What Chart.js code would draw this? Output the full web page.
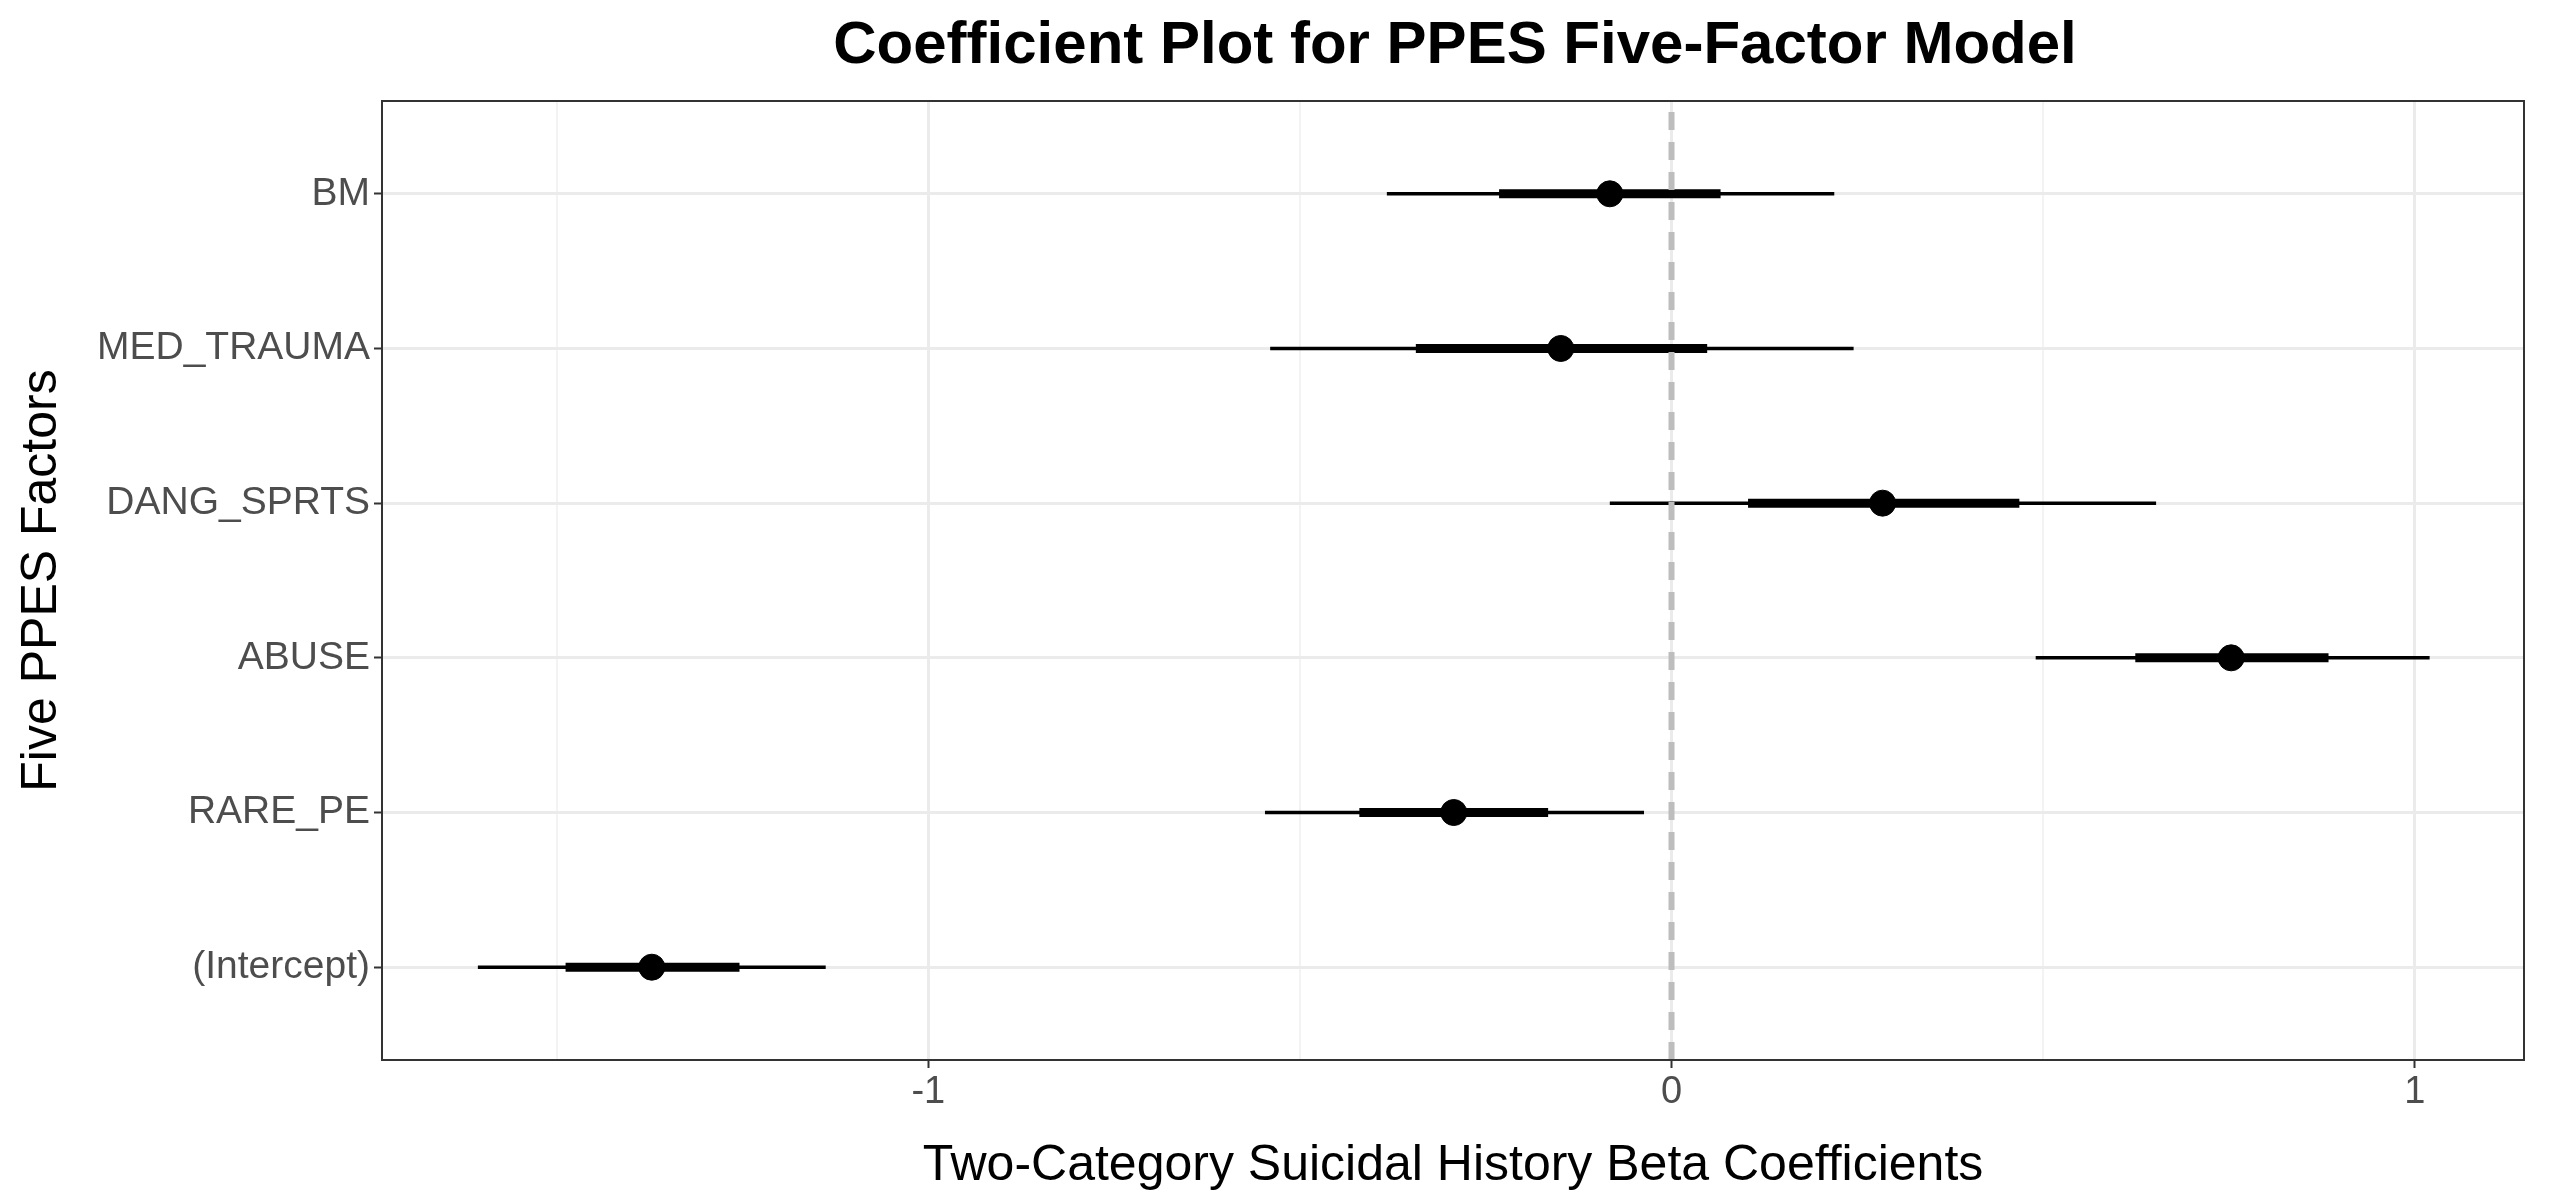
<!DOCTYPE html>
<html>
<head>
<meta charset="utf-8">
<script src="https://cdn.jsdelivr.net/npm/chart.js@4/dist/chart.umd.min.js"></script>
<style>
  html, body { margin: 0; padding: 0; background: #fff; }
  canvas { display: block; }
</style>
</head>
<body>
<canvas id="c" width="2550" height="1200"></canvas>
<script>
// rows from bottom (y=1) to top (y=6)
const factors = ['(Intercept)', 'RARE_PE', 'ABUSE', 'DANG_SPRTS', 'MED_TRAUMA', 'BM'];
const estimates = [-1.372, -0.293, 0.753, 0.284, -0.149, -0.083];
const innerLow  = [-1.488, -0.420, 0.624, 0.103, -0.344, -0.232];
const innerHigh = [-1.254, -0.166, 0.884, 0.468, 0.048, 0.066];
const outerLow  = [-1.606, -0.547, 0.490, -0.083, -0.540, -0.383];
const outerHigh = [-1.138, -0.037, 1.020, 0.652, 0.245, 0.219];
const xTicks = [-1.5, -1, -0.5, 0, 0.5, 1];

function segments(lo, hi) {
  const pts = [];
  lo.forEach((v, i) => { pts.push({x: v, y: i + 1}, {x: hi[i], y: i + 1}, {x: NaN, y: NaN}); });
  return pts;
}

const panelBorder = {
  id: 'panelBorder',
  afterDraw(chart) {
    const a = chart.chartArea, ctx = chart.ctx;
    ctx.save();
    ctx.strokeStyle = '#333333';
    ctx.lineWidth = 2;
    ctx.strokeRect(a.left, a.top, a.right - a.left, a.bottom - a.top);
    ctx.fillStyle = '#000';
    ctx.font = 'bold 60px "Liberation Sans", Arial, sans-serif';
    ctx.textAlign = 'center';
    ctx.textBaseline = 'middle';
    ctx.fillText('Coefficient Plot for PPES Five-Factor Model', (a.left + a.right) / 2 + 2, 46);
    ctx.restore();
  }
};

new Chart(document.getElementById('c'), {
  type: 'scatter',
  data: {
    datasets: [
      { data: [{x: 0, y: 0.4}, {x: 0, y: 6.6}], showLine: true, borderColor: '#bdbdbd',
        borderWidth: 6, borderDash: [18, 12], pointRadius: 0 },
      { data: segments(outerLow, outerHigh), showLine: true, spanGaps: false,
        borderColor: '#000', borderWidth: 3.5, pointRadius: 0 },
      { data: segments(innerLow, innerHigh), showLine: true, spanGaps: false,
        borderColor: '#000', borderWidth: 9, pointRadius: 0, borderCapStyle: 'butt' },
      { data: estimates.map((v, i) => ({x: v, y: i + 1})), backgroundColor: '#000',
        borderColor: '#000', pointRadius: 13 }
    ]
  },
  options: {
    responsive: false,
    devicePixelRatio: 1,
    animation: false,
    layout: { padding: { top: 101, left: 8, right: 26, bottom: 0 } },
    plugins: { legend: { display: false }, tooltip: { enabled: false } },
    scales: {
      x: {
        type: 'linear', min: -1.735, max: 1.147,
        afterBuildTicks: s => { s.ticks = xTicks.map(v => ({value: v})); },
        afterFit: s => { s.height = 140; },
        grid: {
          color: c => Number.isInteger(c.tick.value) ? '#ebebeb' : '#f3f3f3',
          lineWidth: c => Number.isInteger(c.tick.value) ? 3 : 2,
          tickColor: c => Number.isInteger(c.tick.value) ? '#333' : 'rgba(0,0,0,0)',
          tickLength: 8, tickWidth: 2
        },
        border: { display: false },
        ticks: {
          color: '#4d4d4d', font: { size: 38, family: '"Liberation Sans", Arial' }, padding: 2,
          callback: v => Number.isInteger(v) ? String(v) : ''
        },
        title: { display: true, text: 'Two-Category Suicidal History Beta Coefficients',
          color: '#000', font: { size: 50, family: '"Liberation Sans", Arial' }, padding: { top: 4 } }
      },
      y: {
        type: 'linear', min: 0.4, max: 6.6,
        afterBuildTicks: s => { s.ticks = factors.map((f, i) => ({value: i + 1})); },
        afterFit: s => { s.width = 374; },
        grid: { color: '#ebebeb', lineWidth: 3, tickColor: '#333', tickLength: 8, tickWidth: 2 },
        border: { display: false },
        ticks: {
          color: '#4d4d4d', font: { size: 39, family: '"Liberation Sans", Arial' }, padding: 4,
          callback: v => factors[v - 1] || ''
        },
        title: { display: true, text: 'Five PPES Factors',
          color: '#000', font: { size: 50, family: '"Liberation Sans", Arial' }, padding: { bottom: 4 } }
      }
    }
  },
  plugins: [panelBorder]
});
</script>
</body>
</html>
